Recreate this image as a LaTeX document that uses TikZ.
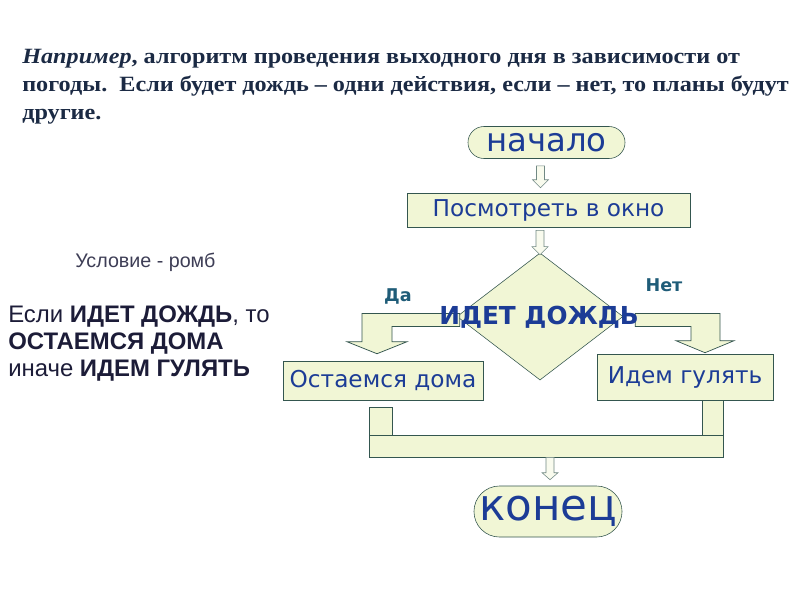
\documentclass[tikz,border=0pt]{standalone}
\usepackage{fontspec}
\setmainfont{DejaVu Sans}
\newfontfamily\titlefont[FakeStretch=1.11]{Liberation Serif}
\newfontfamily\notefont{Liberation Sans}
\usetikzlibrary{calc,shapes.geometric,shapes.misc}
\definecolor{paleleaf}{HTML}{F1F6D5}
\definecolor{slateedge}{HTML}{34564F}
\definecolor{inkblue}{HTML}{1C3C96}
\definecolor{tealmark}{HTML}{1F5C78}
\definecolor{titlenavy}{HTML}{1B2A44}
\definecolor{notenavy}{HTML}{1C1C38}
\tikzset{
  termbox/.style={rounded rectangle,draw=slateedge,fill=paleleaf,inner sep=0pt,text=inkblue},
  actbox/.style={rectangle,draw=slateedge,fill=paleleaf,inner sep=0pt,text=inkblue,font=\fontsize{16.5}{18}\selectfont},
  bentarrow/.style={draw=slateedge,fill=paleleaf,line width=0.5pt,line join=miter},
  droparrow/.style={draw=slateedge!70,fill=paleleaf!40,line width=0.4pt},
  answer/.style={text=tealmark,font=\bfseries\fontsize{12.5}{14}\selectfont}
}
\newcommand{\hollowdrop}[3]{\draw[droparrow] let \p1=#1, \p2=#2 in
  (\x1-0.1cm,\y1) -- (\x1+0.1cm,\y1) -- (\x1+0.1cm,\y2+#3) -- (\x1+0.2cm,\y2+#3) -- (\x1,\y2)
  -- (\x1-0.2cm,\y2+#3) -- (\x1-0.1cm,\y2+#3) -- cycle;}
\begin{document}
\begin{tikzpicture}[x=0.025cm,y=-0.025cm]
\useasboundingbox[fill=white] (0,0) rectangle (800,600);
\node[anchor=north west,inner sep=0pt,align=left,text=titlenavy,font=\titlefont\bfseries\fontsize{15.5}{19.9}\selectfont] (intro) at (22,49)
  {\textit{Например},~алгоритм проведения выходного дня в зависимости от\\
   погоды.~~Если будет дождь – одни действия, если – нет, то планы будут\\
   другие.};
\node[termbox,minimum width=3.925cm,minimum height=0.8cm,font=\fontsize{23}{26}\selectfont] (start) at (546.5,142.5) {начало};
\node[actbox,minimum width=7.075cm,minimum height=0.85cm] (look) at (548.5,210) {Посмотреть в окно};
\node[diamond,draw=slateedge,fill=paleleaf,inner sep=0pt,minimum width=4.15cm,minimum height=3.175cm] (cond) at (540,316.5) {};
\node[actbox,minimum width=5cm,minimum height=0.975cm] (stay) at (383,380.5) {Остаемся дома};
\node[actbox,minimum width=4.4cm,minimum height=1.15cm] (walk) at (685,377) {Идем гулять};
\node[termbox,minimum width=3.25cm,minimum height=1.275cm,font=\fontsize{31}{34}\selectfont] (finish) at (548,511.5) {\raisebox{-2pt}{конец}};
\coordinate (yesdrop) at ($(stay.north)+(-6,0)$);
\coordinate (nodrop) at ($(walk.north)+(20,0)$);
\coordinate (barfoot) at ($(stay.south)+(-14,57)$);
\draw[bentarrow] ($(cond.west)+(3,-3)$) -- ($(yesdrop|-cond.west)+(-15,-3)$) -- ($(yesdrop)+(-15,-19)$)
  -- ($(yesdrop)+(-30,-19)$) -- ($(yesdrop)+(0,-7)$) -- ($(yesdrop)+(30,-19)$) -- ($(yesdrop)+(15,-19)$)
  -- ($(yesdrop|-cond.west)+(15,10)$) -- ($(cond.west)+(3,10)$) -- cycle;
\draw[bentarrow] ($(cond.east)+(12,-3)$) -- ($(nodrop|-cond.east)+(15,-3)$) -- ($(nodrop)+(15,-13)$)
  -- ($(nodrop)+(29,-13)$) -- ($(nodrop)+(0,-1)$) -- ($(nodrop)+(-29,-13)$) -- ($(nodrop)+(-14,-13)$)
  -- ($(nodrop|-cond.east)+(-14,10)$) -- ($(cond.east)+(12,10)$) -- cycle;
\draw[bentarrow] ($(stay.south)+(-14,7)$) rectangle ($(stay.south)+(9,35)$);
\draw[bentarrow] ($(walk.south)+(17,0)$) rectangle ($(walk.south)+(38,35)$);
\draw[bentarrow] ($(stay.south)+(-14,35)$) rectangle ($(walk.south)+(38,57)$);
\hollowdrop{($(start.south)+(-6,7)$)}{($(look.north)+(-8.5,-5)$)}{0.2cm}
\hollowdrop{($(look.south)+(-8.5,3)$)}{($(cond.north)+(0,2)$)}{0.2cm}
\hollowdrop{($(finish.north|-barfoot)+(2,0)$)}{($(finish.north)+(2,-6)$)}{0.175cm}
\node[text=inkblue,font=\bfseries\fontsize{17.6}{20}\selectfont] (condtxt) at (539,317) {ИДЕТ ДОЖДЬ};
\node[answer] (yes) at (398,296) {Да};
\node[answer] (no) at (664,285) {Нет};
\node[anchor=west,inner sep=0pt,text=notenavy!85,font=\notefont\fontsize{14}{16}\selectfont] (rhomb) at (75,262) {Условие - ромб};
\node[anchor=north west,inner sep=0pt,align=left,text=notenavy,font=\notefont\fontsize{17}{19.2}\selectfont] (rule) at (8,306)
  {Если \textbf{ИДЕТ ДОЖДЬ}, то\\ \textbf{ОСТАЕМСЯ ДОМА}\\ иначе \textbf{ИДЕМ ГУЛЯТЬ}};
\end{tikzpicture}
\end{document}
